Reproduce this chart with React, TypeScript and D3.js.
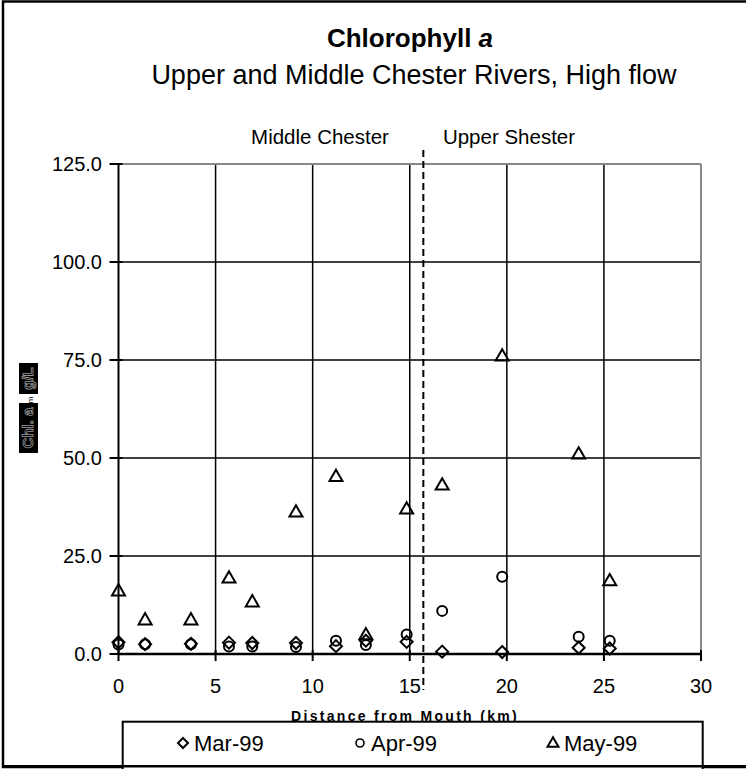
import React from "react";
import * as d3 from "d3";

const distances = [0, 1.37, 3.73, 5.69, 6.89, 9.14, 11.2, 12.74, 14.84, 16.67, 19.76, 23.7, 25.3];
const mar99 = [3.0, 2.5, 2.6, 2.9, 2.8, 2.8, 2.0, 3.4, 3.1, 0.6, 0.5, 1.6, 1.4];
const apr99 = [2.4, 2.5, 2.5, 1.9, 1.9, 1.8, 3.4, 2.3, 5.0, 11.0, 19.7, 4.4, 3.4];
const may99 = [16.1, 8.7, 8.7, 19.4, 13.3, 36.2, 45.3, 4.9, 37.0, 43.1, 76.0, 51.0, 18.7];
const xTicks = [0, 5, 10, 15, 20, 25, 30];
const yTicks = [0, 25, 50, 75, 100, 125];
const seriesNames = ["Mar-99", "Apr-99", "May-99"];
const boundaryKm = 15.7;

const W = 746;
const H = 769;
const FONT = "'Liberation Sans', Arial, sans-serif";

export default function App() {
  const x = d3.scaleLinear().domain([0, 30]).range([118.5, 701]);
  const y = d3.scaleLinear().domain([0, 125]).range([654, 164]);

  const diamond = (cx: number, cy: number, r = 6) =>
    `M${cx},${cy - r}L${cx + r},${cy}L${cx},${cy + r}L${cx - r},${cy}Z`;
  const triangle = (cx: number, cy: number, s = 13) => {
    const h = s * 0.87;
    return `M${cx},${cy - h * 0.6}L${cx + s / 2},${cy + h * 0.4}L${cx - s / 2},${cy + h * 0.4}Z`;
  };

  const series = [mar99, apr99, may99];

  const marker = (k: number, cx: number, cy: number, key: string, small = false) => {
    if (k === 0)
      return <path key={key} d={diamond(cx, cy, small ? 5 : 6)} fill="none" stroke="#000" strokeWidth={2} />;
    if (k === 1)
      return <circle key={key} cx={cx} cy={cy} r={small ? 4 : 5} fill="none" stroke="#000" strokeWidth={small ? 1.6 : 2} />;
    return <path key={key} d={triangle(cx, cy, small ? 11 : 13)} fill="none" stroke="#000" strokeWidth={2} />;
  };

  const legendX = [183, 360, 553];

  return (
    <svg
      width={W}
      height={H}
      style={{ position: "absolute", left: 0, top: 0, background: "#fff" }}
      fontFamily={FONT}
    >
      <rect x={0} y={0} width={W} height={H} fill="#fff" />
      {/* outer frame */}
      <rect x={3} y={1.5} width={W + 10} height={765.5} fill="none" stroke="#000" strokeWidth={2.5} />

      {/* titles */}
      <text x={410} y={47} textAnchor="middle" fontSize={26} fontWeight="bold">
        Chlorophyll <tspan fontStyle="italic">a</tspan>
      </text>
      <text x={414} y={84} textAnchor="middle" fontSize={27}>
        Upper and Middle Chester Rivers, High flow
      </text>

      {/* region labels */}
      <text x={320} y={144} textAnchor="middle" fontSize={20.5}>Middle Chester</text>
      <text x={509} y={144} textAnchor="middle" fontSize={20.5}>Upper Shester</text>

      {/* gridlines */}
      {xTicks.filter((t) => t > 0 && t < 30).map((t) => (
        <line key={"gx" + t} x1={x(t)} x2={x(t)} y1={y(125)} y2={y(0)} stroke="#000" strokeWidth={1.5} />
      ))}
      {yTicks.filter((t) => t > 0 && t < 125).map((t) => (
        <line key={"gy" + t} x1={x(0)} x2={x(30)} y1={y(t)} y2={y(t)} stroke="#000" strokeWidth={1.5} />
      ))}
      {/* plot border top/right (gray) */}
      <line x1={x(0)} x2={x(30)} y1={y(125)} y2={y(125)} stroke="#888" strokeWidth={2} />
      <line x1={x(30)} x2={x(30)} y1={y(125)} y2={y(0)} stroke="#888" strokeWidth={2} />

      {/* axes */}
      <line x1={x(0)} x2={x(0)} y1={y(125)} y2={y(0)} stroke="#000" strokeWidth={2} />
      <line x1={x(0)} x2={x(30)} y1={y(0)} y2={y(0)} stroke="#000" strokeWidth={2.5} />
      {yTicks.map((t) => (
        <g key={"yt" + t}>
          <line x1={x(0) - 9} x2={x(0) + 4} y1={y(t)} y2={y(t)} stroke="#000" strokeWidth={2} />
          <text x={102} y={y(t)} dy="0.35em" textAnchor="end" fontSize={20}>
            {t.toFixed(1)}
          </text>
        </g>
      ))}
      {xTicks.map((t) => (
        <g key={"xt" + t}>
          <line x1={x(t)} x2={x(t)} y1={y(0) - 4} y2={y(0) + 7} stroke="#000" strokeWidth={2} />
          <text x={x(t)} y={686} dy="0.35em" textAnchor="middle" fontSize={20}>
            {t}
          </text>
        </g>
      ))}

      {/* boundary dashed line */}
      <line
        x1={x(boundaryKm)}
        x2={x(boundaryKm)}
        y1={150}
        y2={690}
        stroke="#000"
        strokeWidth={2}
        strokeDasharray="7,4"
      />

      {/* data */}
      {series.map((vals, k) =>
        vals.map((v, i) => marker(k, x(distances[i]), y(v), `m${k}-${i}`))
      )}

      {/* y axis label */}
      <g transform="translate(28,408) rotate(-90)">
        <rect x={-45} y={-9} width={50} height={19} fill="#000" />
        <text x={-20} y={5} textAnchor="middle" fontSize={15} fontWeight="bold" fill="#000" stroke="#999" strokeWidth={0.8}>
          Chl. a
        </text>
        <text x={8} y={5} textAnchor="middle" fontSize={8} fill="#000">m</text>
        <rect x={14} y={-9} width={31} height={19} fill="#000" />
        <text x={29.5} y={5} textAnchor="middle" fontSize={15} fontWeight="bold" fill="#000" stroke="#999" strokeWidth={0.8}>
          g/L
        </text>
      </g>

      {/* x axis label */}
      <text x={405} y={721} textAnchor="middle" fontSize={14} fontWeight="bold" letterSpacing={2.3}>
        Distance from Mouth (km)
      </text>

      {/* legend */}
      <rect x={122.7} y={721.7} width={580} height={50} fill="#fff" stroke="#000" strokeWidth={2} />
      <rect x={3} y={765} width={W} height={2.5} fill="#000" />
      {seriesNames.map((name, k) => (
        <g key={"lg" + k}>
          {marker(k, legendX[k], 743, "lm" + k, true)}
          <text x={legendX[k] + 11} y={743} dy="0.35em" fontSize={22}>
            {name}
          </text>
        </g>
      ))}
    </svg>
  );
}
